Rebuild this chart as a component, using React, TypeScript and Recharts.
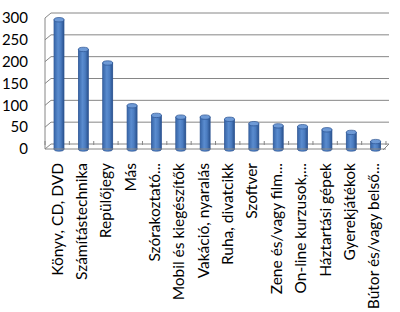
import React from "react";
import { BarChart, Bar, XAxis, YAxis, CartesianGrid } from "recharts";

const categories = [
  "Könyv, CD, DVD",
  "Számítástechnika",
  "Repülőjegy",
  "Más",
  "Szórakoztató...",
  "Mobil és kiegészítők",
  "Vakáció, nyaralás",
  "Ruha, divatcikk",
  "Szoftver",
  "Zene és/vagy film...",
  "On-line kurzusok,...",
  "Háztartási gépek",
  "Gyerekjátékok",
  "Bútor és/vagy belső...",
];
const values = [296, 228, 197, 99, 77, 73, 73, 68, 58, 53, 51, 44, 38, 17];
const yTicks = [0, 50, 100, 150, 200, 250, 300];

const data = categories.map((name, i) => ({ name, value: values[i] }));

const GRID = "#868686";
const FONT = "Lato, 'Liberation Sans', sans-serif";

const Cylinder = (props: any) => {
  const { x: x0, y, width, height } = props;
  if (height == null || height <= 0) return null;
  const x = x0 + 2;
  const ry = 2.2;
  const cx = x + width / 2;
  return (
    <g>
      <rect x={x} y={y} width={width} height={height} fill="url(#cylGrad)" stroke="#2a5190" strokeWidth={0.7} />
      <ellipse cx={cx} cy={y + height} rx={width / 2} ry={ry} fill="url(#cylGrad)" stroke="#2a5190" strokeWidth={0.7} />
      <rect x={x + 0.4} y={y} width={width - 0.8} height={height} fill="url(#cylGrad)" />
      <ellipse cx={cx} cy={y} rx={width / 2} ry={ry} fill="#6e9ad6" stroke="#2a5190" strokeWidth={0.7} />
    </g>
  );
};

const GridLine = (props: any) => {
  const { x1, x2, y1, index } = props;
  const dx = 6;
  const dy = 5;
  return (
    <g key={`g-${index}`}>
      <line x1={x1} y1={y1} x2={x1 + dx} y2={y1 - dy} stroke={GRID} strokeWidth={1} />
      <line x1={x1 + dx} y1={y1 - dy} x2={x2 + 3} y2={y1 - dy} stroke={GRID} strokeWidth={1} />
      {y1 > 140 ? (
        <line x1={x2 - 3} y1={y1 + 1} x2={x2 + 3} y2={y1 - dy} stroke={GRID} strokeWidth={1} />
      ) : null}
    </g>
  );
};

const XTick = (props: any) => {
  const { x, y, payload, index } = props;
  const half = 12.15;
  const ty = y + 14;
  return (
    <g>
      <line x1={x - half} y1={y - 8} x2={x - half} y2={y - 4} stroke={GRID} strokeWidth={1} />
      {index === categories.length - 1 ? (
        <line x1={x + half} y1={y - 8} x2={x + half} y2={y - 4} stroke={GRID} strokeWidth={1} />
      ) : null}
      <text
        x={x}
        y={ty}
        transform={`rotate(-90, ${x}, ${ty})`}
        textAnchor="end"
        dy="0.35em"
        fontFamily={FONT}
        fontSize={15.5}
        fill="#000"
      >
        {payload.value}
      </text>
    </g>
  );
};

export default function App() {
  return (
    <div style={{ position: "absolute", left: 0, top: 0, width: 400, height: 312, background: "#fff" }}>
      <BarChart width={400} height={312} data={data} margin={{ top: 18, right: 14, bottom: 0, left: 0 }} barSize={10}>
        <defs>
          <linearGradient id="cylGrad" x1="0" y1="0" x2="1" y2="0">
            <stop offset="0%" stopColor="#3a68aa" />
            <stop offset="40%" stopColor="#5a8ccf" />
            <stop offset="70%" stopColor="#4b7cc0" />
            <stop offset="100%" stopColor="#2d5693" />
          </linearGradient>
        </defs>
        <CartesianGrid vertical={false} horizontal={(p: any) => <GridLine {...p} />} stroke={GRID} />
        <XAxis
          dataKey="name"
          interval={0}
          height={163}
          tickLine={false}
          axisLine={{ stroke: GRID, strokeWidth: 1 }}
          tick={(p: any) => <XTick {...p} />}
          tickSize={0}
          tickMargin={0}
        />
        <YAxis
          domain={[0, 300]}
          ticks={yTicks}
          width={45}
          tickLine={false}
          tickSize={0}
          tickMargin={17}
          axisLine={{ stroke: GRID, strokeWidth: 1 }}
          tick={{ fontFamily: FONT, fontSize: 15, fill: "#000" }}
          interval={0}
        />
        <Bar dataKey="value" shape={(p: any) => <Cylinder {...p} />} isAnimationActive={false} />
      </BarChart>
    </div>
  );
}
